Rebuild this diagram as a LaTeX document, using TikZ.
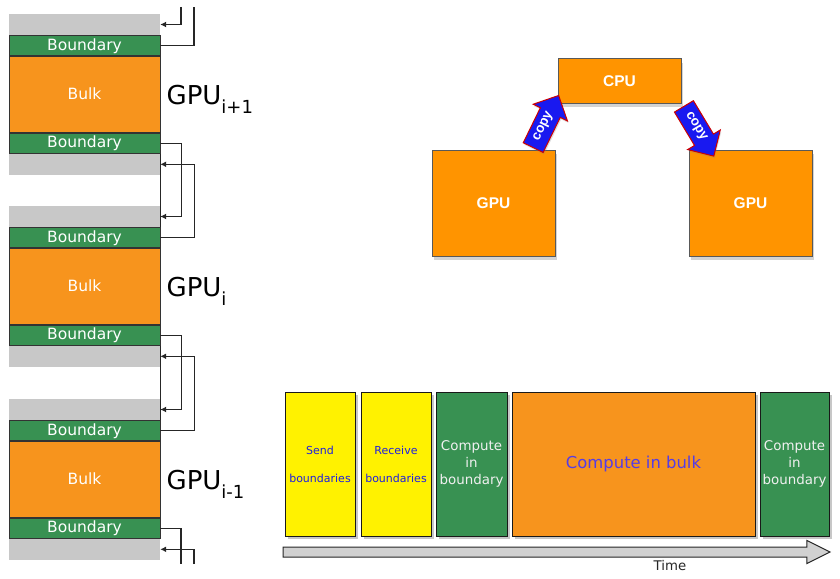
\documentclass[tikz,border=0pt]{standalone}
\usepackage{fontspec}
\setmainfont{DejaVu Sans}
\newfontfamily\helv{Liberation Sans}
\usetikzlibrary{calc, positioning, shapes.arrows, shadows, arrows.meta}
\definecolor{bndgreen}{RGB}{56,145,82}
\definecolor{bulkorange}{RGB}{247,148,29}
\definecolor{ghostgray}{RGB}{200,200,200}
\definecolor{cpuorange}{RGB}{255,148,0}
\definecolor{copyblue}{RGB}{25,25,240}
\definecolor{sendblue}{RGB}{30,30,225}
\definecolor{bulkblue}{RGB}{85,60,230}
\begin{document}
\begin{tikzpicture}[x=1pt,y=-1pt,>={Latex[length=6pt,width=6pt]},
    ghost/.style={fill=ghostgray,inner sep=0,minimum width=151pt,minimum height=21pt},
    bnd/.style={draw=black!80,line width=0.8pt,fill=bndgreen,text=white,inner sep=0,
      minimum width=151pt,minimum height=20pt,text height=11pt,text depth=1.5pt,
      font=\fontsize{15.5}{18}\selectfont},
    bulk/.style={bnd,fill=bulkorange,minimum height=76pt},
    link/.style={draw=black!85,line width=1.3pt},
    unit/.style={draw=black!65,line width=1pt,fill=cpuorange,text=white,inner sep=0,
      font=\helv\bfseries\fontsize{15.5}{18}\selectfont,
      drop shadow={shadow xshift=2pt,shadow yshift=-4pt,opacity=0.35}},
    copyarrow/.style={single arrow,draw=red!80!black,line width=1pt,fill=copyblue,text=white,
      font=\helv\bfseries\fontsize{13.5}{16}\selectfont,inner xsep=2pt,inner ysep=5.5pt,
      minimum height=58pt,single arrow head extend=8pt,
      drop shadow={shadow xshift=1pt,shadow yshift=-2pt,opacity=0.25}},
    stage/.style={draw=black!90,line width=1pt,inner sep=0,minimum height=144pt,minimum width=70pt,
      align=center,drop shadow={shadow xshift=2.5pt,shadow yshift=-2.5pt,fill=black!22,opacity=1}},
    sendstage/.style={stage,fill=yellow,text=sendblue,font=\fontsize{11}{13}\selectfont},
    calcstage/.style={stage,fill=bndgreen,text=white!94!black,font=\fontsize{13.4}{17}\selectfont}]

  \useasboundingbox (0,0) rectangle (840,578);

  \foreach \n/\t/\idx in {1/14/{i+1},2/206/{i},3/399/{i-1}}{
    \node[ghost] (ghostT\n) at (84.5,\t+10.5) {};
    \node[bnd,below=0pt of ghostT\n] (bndT\n) {Boundary};
    \node[bulk,below=0pt of bndT\n] (bulk\n) {Bulk};
    \node[bnd,below=0pt of bulk\n] (bndB\n) {Boundary};
    \node[ghost,below=0pt of bndB\n] (ghostB\n) {};
    \node[anchor=base west,inner sep=0,font=\fontsize{26}{30}\selectfont] (gpu\n)
      at ($(bulk\n.east)+(6,10)$) {GPU\raisebox{-9pt}{\fontsize{18}{20}\selectfont\idx}};
  }

  \coordinate (inT) at (181,7);
  \coordinate (outT) at (194,7);
  \draw[link,->] (inT) |- (ghostT1.east);
  \draw[link] (bndT1.east) -| (outT);
  \foreach \n/\m in {1/2,2/3}{
    \draw[link] (bndB\n.south east) -- (bndT\m.north east);
    \draw[link,->] (bndB\n.east) -- ++(21,0) |- (ghostT\m.east);
    \draw[link,->] (bndT\m.east) -- ++(34,0) |- (ghostB\n.east);
  }
  \coordinate (outB) at (181,564);
  \coordinate (inB) at (194,564);
  \draw[link] (bndB3.east) -| (outB);
  \draw[link,->] (inB) |- (ghostB3.east);

  \node[unit,minimum width=123pt,minimum height=106pt] (gpuA) at (493.5,203) {GPU};
  \node[unit,minimum width=123pt,minimum height=106pt] (gpuB) at (750.5,203) {GPU};
  \node[unit,minimum width=123pt,minimum height=44pt] (cpu) at (619.5,81) {CPU};
  \node[copyarrow,rotate=64] (up) at ($(gpuA.north east)!0.5!(cpu.south west)+(-13,0)$) {copy};
  \node[copyarrow,rotate=-59] (down) at ($(cpu.south east)!0.5!(gpuB.north west)+(11,0)$) {copy};

  \node[sendstage] (send) at (320,464) {Send\\[15pt]boundaries};
  \node[sendstage,right=5pt of send] (recv) {Receive\\[15pt]boundaries};
  \node[calcstage,minimum width=71pt,right=4pt of recv] (cb1) {Compute\\in\\boundary};
  \node[stage,fill=bulkorange,text=bulkblue,font=\fontsize{16.4}{20}\selectfont,
    minimum width=243pt,right=4pt of cb1] (cbulk) {Compute in bulk};
  \node[calcstage,minimum width=69pt,right=4pt of cbulk] (cb2) {Compute\\in\\boundary};

  \node[single arrow,draw=black!85,line width=1pt,fill=black!18,inner sep=4.5pt,
    minimum height=547pt,single arrow head extend=6.5pt,single arrow tip angle=53]
    (timeline) at (551.5,552) {};
  \node[font=\fontsize{13.3}{16}\selectfont,text=black!85] (timelbl) at (670,566) {Time};
\end{tikzpicture}
\end{document}
